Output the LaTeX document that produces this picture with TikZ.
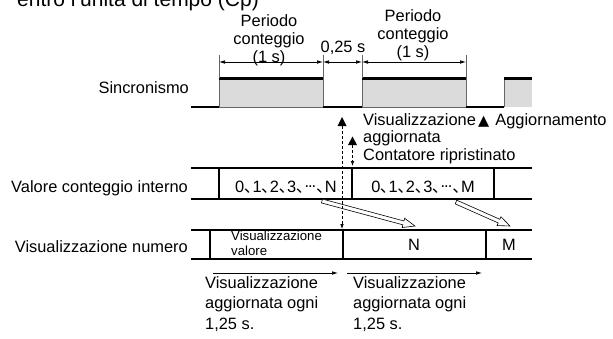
\documentclass[tikz,border=0pt]{standalone}
\usepackage{fontspec}
\setmainfont{Liberation Sans}
\newfontfamily\cjk{Noto Sans CJK JP}
\newfontfamily\dejavu{DejaVu Sans}
\usetikzlibrary{arrows.meta,calc}
\newcommand\jc{{\cjk ､}}
\newcommand\jd{\raisebox{0.27em}{.\kern-0.06em.\kern-0.06em.}\kern0.03em}
\newcommand\hollowarrow[2]{%
  \coordinate (hh) at ($(#2)!12pt!(#1)$);
  \draw[hollow] ($(#1)!2pt!90:(#2)$) -- ($(hh)!2pt!-90:(#1)$) -- ($(hh)!4.8pt!-90:(#1)$)
    -- (#2) -- ($(hh)!4.8pt!90:(#1)$) -- ($(hh)!2pt!90:(#1)$) -- ($(#1)!2pt!-90:(#2)$) -- cycle;}
\begin{document}
\begin{tikzpicture}[x=1pt,y=-1pt,
  lab/.style={font=\fontsize{16.4}{18}\selectfont, inner sep=0pt},
  small/.style={font=\fontsize{13.2}{15}\selectfont, inner sep=0pt},
  rowline/.style={line width=1.2pt},
  dim/.style={line width=0.7pt, {Latex[length=6pt,width=3.6pt]}-{Latex[length=6pt,width=3.6pt]}},
  oneway/.style={line width=0.7pt, -{Latex[length=6pt,width=3.6pt]}},
  tick/.style={line width=0.7pt, draw=black!60},
  pulse/.style={fill=black!14, draw=black!60, line width=0.7pt},
  ptop/.style={line width=2.2pt},
  dline/.style={dash pattern=on 3pt off 2pt, line width=0.7pt, -{Latex[length=5pt,width=3.6pt]}},
  hollow/.style={draw, line width=0.6pt, fill=white},
  tri/.style={fill=black},
]
\useasboundingbox (0,0) rectangle (613,338);

% title (cut at top)
\node[inner sep=0pt, anchor=base west, font=\fontsize{21}{24}\selectfont] (title) at (17,6) {entro l'unità di tempo (Cp)};

% ---------- Sincronismo ----------
\path[pulse] (219,107) rectangle (323,78.5);
\path[pulse] (362,107) rectangle (466,78.5);
\fill[black!14] (504,107) rectangle (532,78.5);
\draw[tick] (504,107) -- (504,78.5);
\draw[rowline] (191,107) -- (219,107);
\draw[rowline] (323,107) -- (362,107);
\draw[rowline] (466,107) -- (504,107);
\draw[ptop] (219,78.5) -- (323,78.5);
\draw[ptop] (362,78.5) -- (466,78.5);
\draw[ptop] (504,78.5) -- (532,78.5);

\coordinate (t1) at (219,62);
\coordinate (t2) at (323,62);
\coordinate (t3) at (362,62);
\coordinate (t4) at (466,62);
\draw[tick] (219,55) -- (219,78);
\draw[tick] (323,55) -- (323,78);
\draw[tick] (362,55) -- (362,78);
\draw[tick] (466,55) -- (466,78);
\draw[dim] (t1) -- (t2);
\draw[dim] (t2) -- (t3);
\draw[dim] (t3) -- (t4);

\node[lab, align=center, anchor=north] (per1) at (269,14) {Periodo\\conteggio\\(1 s)};
\node[lab, align=center, anchor=north] (per2) at (413,9) {Periodo\\conteggio\\(1 s)};
\node[lab, anchor=base] (q25) at (343,52) {0,25 s};

\node[lab, anchor=base east] (lsync) at (189,93) {Sincronismo};

% ---------- Valore conteggio interno ----------
\draw[rowline] (191,168) -- (532,168);
\draw[rowline] (191,199) -- (532,199);
\draw[rowline] (219,168) -- (219,199);
\draw[rowline] (352,168) -- (352,199);
\draw[rowline] (494,168) -- (494,199);
\node[lab, anchor=base east] (lval) at (188,192) {Valore conteggio interno};
\node[lab, anchor=base] (cN) at (286,192) {0\jc1\jc2\jc3\jc\jd\jc N};
\node[lab, anchor=base] (cM) at (423,192) {0\jc1\jc2\jc3\jc\jd\jc M};

% ---------- Visualizzazione numero ----------
\draw[rowline] (191,230) -- (532,230);
\draw[rowline] (191,259) -- (532,259);
\draw[rowline] (210,230) -- (210,259);
\draw[rowline] (343,230) -- (343,259);
\draw[rowline] (486,230) -- (486,259);
\node[lab, anchor=base east] (lnum) at (188,252) {Visualizzazione numero};
\node[small, align=left, anchor=north west] (vval) at (231,230.6) {Visualizzazione\\valore};
\node[lab, anchor=base] (dN) at (414,250) {N};
\node[lab, anchor=base] (dM) at (509,250) {M};

% hollow transfer arrows
\coordinate (h1s) at (322,201);
\coordinate (h1e) at (415,226);
\coordinate (h2s) at (456,202);
\coordinate (h2e) at (510,226);
\hollowarrow{h1s}{h1e}
\hollowarrow{h2s}{h2e}

% update markers
\coordinate (va) at (342,126);
\coordinate (vb) at (342,229);
\coordinate (ra) at (352.5,145);
\coordinate (rb) at (352.5,166);
\fill[tri] (337.5,126) -- (346.5,126) -- (342,117) -- cycle;
\fill[tri] (348,145) -- (357,145) -- (352.5,136.5) -- cycle;
\draw[dline] (va) -- (vb);
\draw[dline] (ra) -- (rb);

\node[lab, align=left, anchor=north west, font=\fontsize{16.4}{17.5}\selectfont] (vagg) at (363,113.2) {Visualizzazione\\aggiornata};
\node[lab, anchor=base west] (cont) at (363,160) {Contatore ripristinato};
\node[lab, anchor=base west] (legend) at (478,125.5) {{\dejavu\fontsize{14.5}{15}\selectfont ▲}\hspace{6pt}Aggiornamento};

% ---------- bottom ----------
\coordinate (b1) at (213,273);
\coordinate (b2) at (338,273);
\coordinate (b3) at (347,273);
\coordinate (b4) at (482,273);
\draw[oneway] (b1) -- (b2);
\draw[oneway] (b3) -- (b4);
\node[lab, align=left, anchor=north west, font=\fontsize{16.4}{20.5}\selectfont] (bt1) at (205,276) {Visualizzazione\\aggiornata ogni\\1,25 s.};
\node[lab, align=left, anchor=north west, font=\fontsize{16.4}{20.5}\selectfont] (bt2) at (353,276) {Visualizzazione\\aggiornata ogni\\1,25 s.};
\end{tikzpicture}
\end{document}
